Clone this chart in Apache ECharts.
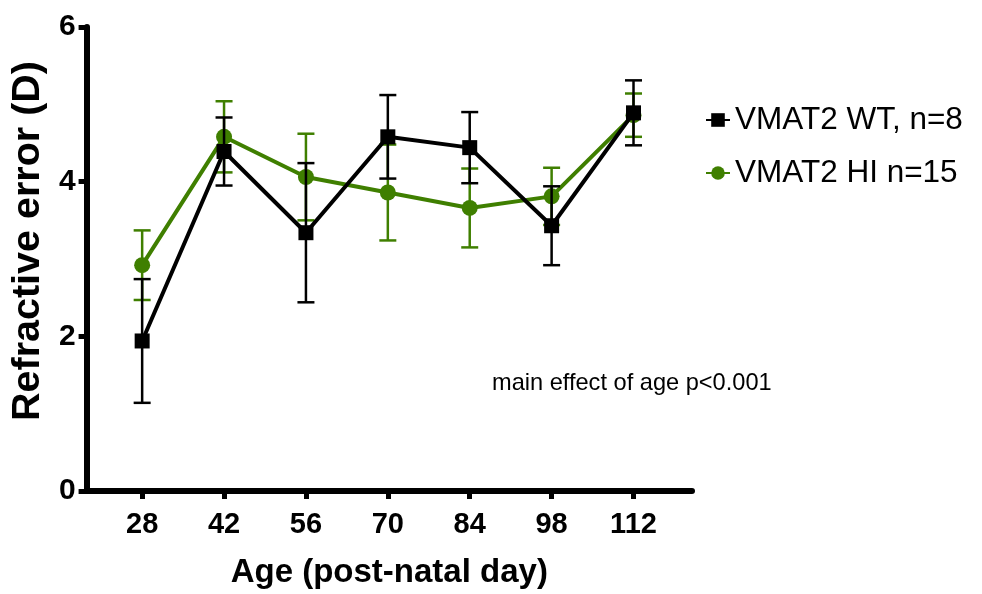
<!DOCTYPE html>
<html>
<head>
<meta charset="utf-8">
<script src="https://cdn.jsdelivr.net/npm/echarts@6/dist/echarts.min.js"></script>
<style>
html,body{margin:0;padding:0;background:#fff;}
#chart{width:982px;height:594px;}
</style>
</head>
<body>
<div id="chart"></div>
<script>
// Data
var ages = [28, 42, 56, 70, 84, 98, 112];
var wtMean = [1.94, 4.39, 3.34, 4.58, 4.44, 3.43, 4.89];
var wtErr  = [0.80, 0.44, 0.90, 0.54, 0.46, 0.51, 0.42];
var hiMean = [2.92, 4.58, 4.06, 3.86, 3.66, 3.81, 4.86];
var hiErr  = [0.45, 0.46, 0.56, 0.62, 0.51, 0.37, 0.28];
var yTicks = [0, 2, 4, 6];
var wtName = 'VMAT2 WT, n=8';
var hiName = 'VMAT2 HI n=15';
var note = 'main effect of age p<0.001';

var GREEN = '#3f7f00';
var BLACK = '#000000';

function pairs(mean){ return ages.map(function(a,i){ return [a, mean[i]]; }); }
function errData(mean, err){ return ages.map(function(a,i){ return [a, mean[i]-err[i], mean[i]+err[i]]; }); }

function errRender(color){
  return function(params, api){
    var x = api.value(0);
    var lo = api.coord([x, api.value(1)]);
    var hi = api.coord([x, api.value(2)]);
    var hw = 8.5;
    var st = {stroke: color, lineWidth: 2.5};
    return {
      type: 'group',
      children: [
        {type:'line', shape:{x1:lo[0], y1:lo[1], x2:hi[0], y2:hi[1]}, style: st},
        {type:'line', shape:{x1:lo[0]-hw, y1:lo[1], x2:lo[0]+hw, y2:lo[1]}, style: st},
        {type:'line', shape:{x1:hi[0]-hw, y1:hi[1], x2:hi[0]+hw, y2:hi[1]}, style: st}
      ]
    };
  };
}

var chart = echarts.init(document.getElementById('chart'), null, {renderer:'canvas'});
chart.setOption({
  animation: false,
  backgroundColor: '#ffffff',
  grid: {left: 85, right: 290, top: 27, bottom: 102, containLabel: false},
  xAxis: {
    type: 'value', min: 18.5, max: 122,
    name: 'Age (post-natal day)', nameLocation: 'middle', nameGap: 65,
    nameTextStyle: {fontFamily: 'Liberation Sans', fontWeight: 'bold', fontSize: 33, color: '#000'},
    axisLine: {lineStyle: {color: '#000', width: 6}},
    axisTick: {show: true, customValues: ages, length: 8, lineStyle: {color:'#000', width: 5}},
    axisLabel: {customValues: ages, fontFamily: 'Liberation Sans', fontWeight: 'bold', fontSize: 29, color: '#000', margin: 19},
    splitLine: {show: false}
  },
  yAxis: {
    type: 'value', min: 0, max: 6, interval: 2,
    name: 'Refractive error (D)', nameLocation: 'middle', nameGap: 34, nameRotate: 90,
    nameTextStyle: {fontFamily: 'Liberation Sans', fontWeight: 'bold', fontSize: 39.5, color: '#000', padding: [0, 0, 0, 36]},
    axisLine: {show: true, lineStyle: {color: '#000', width: 6}},
    axisTick: {show: true, customValues: yTicks, length: 8, lineStyle: {color:'#000', width: 5}},
    axisLabel: {customValues: yTicks, fontFamily: 'Liberation Sans', fontWeight: 'bold', fontSize: 30, color: '#000', margin: 11},
    splitLine: {show: false}
  },
  legend: {
    orient: 'vertical', left: 700, top: 99, itemWidth: 24, itemHeight: 17, itemGap: 21,
    data: [wtName, hiName],
    textStyle: {fontFamily: 'Liberation Sans', fontSize: 31.5, color: '#000'}
  },
  graphic: [{
    type: 'text', left: 492, top: 371,
    style: {text: note, fontFamily: 'Liberation Sans', fontSize: 23.6, fill: '#000'}
  }],
  series: [
    {name: hiName + ' err', type: 'custom', renderItem: errRender(GREEN), data: errData(hiMean, hiErr), z: 2, silent: true},
    {name: hiName, type: 'line', data: pairs(hiMean), symbol: 'circle', symbolSize: 16,
     itemStyle: {color: GREEN}, lineStyle: {color: GREEN, width: 4}, z: 3},
    {name: wtName + ' err', type: 'custom', renderItem: errRender(BLACK), data: errData(wtMean, wtErr), z: 4, silent: true},
    {name: wtName, type: 'line', data: pairs(wtMean), symbol: 'rect', symbolSize: 15,
     itemStyle: {color: BLACK}, lineStyle: {color: BLACK, width: 4}, z: 5}
  ]
});
</script>
</body>
</html>
